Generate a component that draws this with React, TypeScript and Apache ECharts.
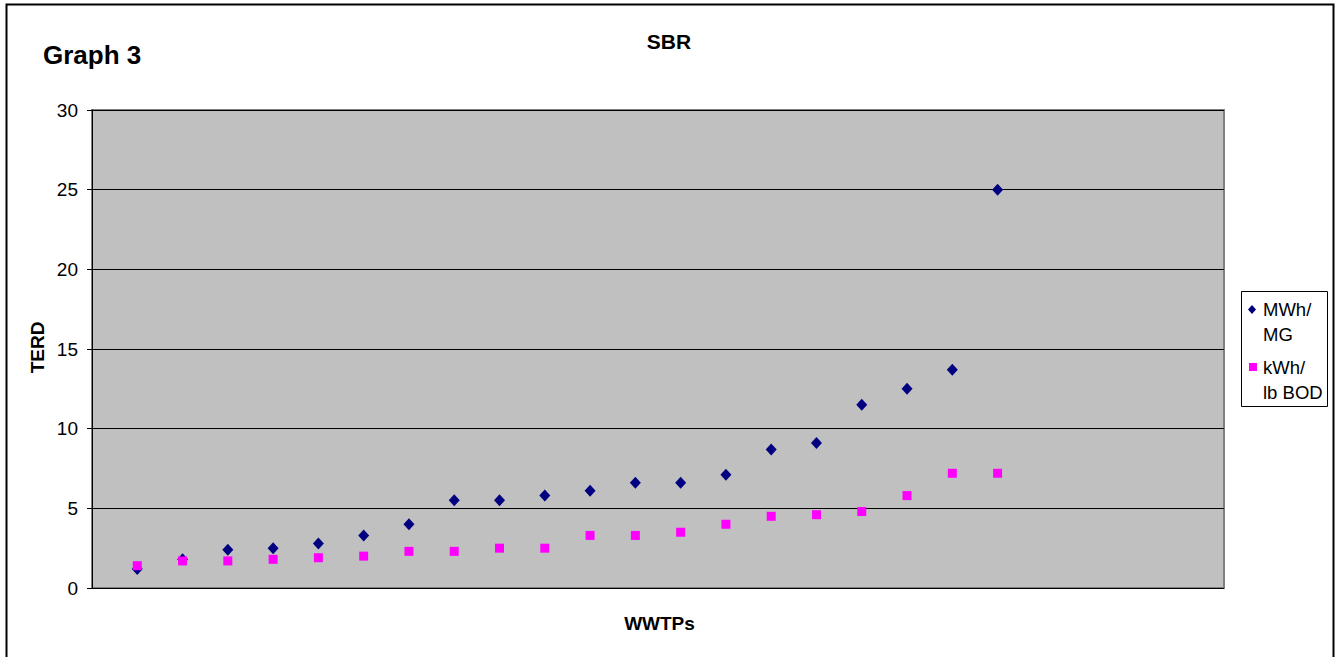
import React, { useEffect, useRef } from "react";
import * as echarts from "echarts";

const plants = [1, 2, 3, 4, 5, 6, 7, 8, 9, 10, 11, 12, 13, 14, 15, 16, 17, 18, 19, 20];
const mwhPerMG = [1.2, 1.8, 2.4, 2.5, 2.8, 3.3, 4.0, 5.5, 5.5, 5.8, 6.1, 6.6, 6.6, 7.1, 8.7, 9.1, 11.5, 12.5, 13.7, 25.0];
const kwhPerLbBOD = [1.4, 1.7, 1.7, 1.8, 1.9, 2.0, 2.3, 2.3, 2.5, 2.5, 3.3, 3.3, 3.5, 4.0, 4.5, 4.6, 4.8, 5.8, 7.2, 7.2];
const seriesNames = ["MWh/\nMG", "kWh/\nlb BOD"];
const yTicks = { min: 0, max: 30, interval: 5 };

const FONT = 'Arial, "Liberation Sans", sans-serif';

export default function App() {
  const ref = useRef<HTMLDivElement>(null);
  useEffect(() => {
    if (!ref.current) return;
    const chart = echarts.init(ref.current, null, { renderer: "svg" });
    chart.setOption({
      animation: false,
      backgroundColor: "#ffffff",
      grid: {
        left: 92,
        top: 110,
        right: 118,
        bottom: 69,
        show: true,
        backgroundColor: "#C0C0C0",
        borderColor: "#808080",
        borderWidth: 2,
      },
      xAxis: {
        type: "value",
        min: 0,
        max: 25,
        axisLine: { show: false },
        axisTick: { show: false },
        axisLabel: { show: false },
        splitLine: { show: false },
      },
      yAxis: {
        type: "value",
        min: yTicks.min,
        max: yTicks.max,
        interval: yTicks.interval,
        axisLine: { show: true, lineStyle: { color: "#000", width: 1 } },
        axisTick: { show: true, length: 5, lineStyle: { color: "#000" } },
        axisLabel: { margin: 14, color: "#000", fontSize: 19, fontFamily: FONT },
        splitLine: { show: true, lineStyle: { color: "#000", width: 1 } },
      },
      series: [
        {
          name: seriesNames[0],
          type: "scatter",
          symbol: "diamond",
          symbolSize: [11, 12],
          itemStyle: { color: "#000080", opacity: 1 },
          data: plants.map((p, i) => [p, mwhPerMG[i]]),
          z: 3,
        },
        {
          name: seriesNames[1],
          type: "scatter",
          symbol: "rect",
          symbolSize: 9,
          itemStyle: { color: "#FF00FF", opacity: 1 },
          data: plants.map((p, i) => [p, kwhPerLbBOD[i]]),
          z: 4,
        },
      ],
      graphic: [
        {
          type: "rect",
          shape: { x: 6.5, y: 4.5, width: 1327, height: 700 },
          style: { fill: "none", stroke: "#000", lineWidth: 2 },
          silent: true,
          z: -1,
        },
        {
          type: "text",
          x: 43,
          y: 55,
          style: { text: "Graph 3", fontSize: 26, fontWeight: "bold", fontFamily: FONT, fill: "#000", align: "left", verticalAlign: "middle" },
        },
        {
          type: "text",
          x: 669,
          y: 41,
          style: { text: "SBR", fontSize: 21, fontWeight: "bold", fontFamily: FONT, fill: "#000", align: "center", verticalAlign: "middle" },
        },
        {
          type: "text",
          x: 37,
          y: 347.5,
          rotation: Math.PI / 2,
          style: { text: "TERD", fontSize: 19, fontWeight: "bold", fontFamily: FONT, fill: "#000", align: "center", verticalAlign: "middle" },
        },
        {
          type: "text",
          x: 659.5,
          y: 623.5,
          style: { text: "WWTPs", fontSize: 19, fontWeight: "bold", fontFamily: FONT, fill: "#000", align: "center", verticalAlign: "middle" },
        },
        {
          type: "rect",
          shape: { x: 1241.5, y: 291.5, width: 86, height: 115 },
          style: { fill: "#fff", stroke: "#000", lineWidth: 1 },
        },
        {
          type: "polygon",
          shape: { points: [[1252, 305], [1256, 309.5], [1252, 314], [1248, 309.5]] },
          style: { fill: "#000080" },
        },
        {
          type: "rect",
          shape: { x: 1249, y: 363, width: 8, height: 8 },
          style: { fill: "#FF00FF" },
        },
        {
          type: "text",
          x: 1263,
          y: 309.5,
          style: { text: "MWh/", fontSize: 18.5, fontFamily: FONT, fill: "#000", align: "left", verticalAlign: "middle" },
        },
        {
          type: "text",
          x: 1263,
          y: 334.5,
          style: { text: "MG", fontSize: 18.5, fontFamily: FONT, fill: "#000", align: "left", verticalAlign: "middle" },
        },
        {
          type: "text",
          x: 1263,
          y: 367,
          style: { text: "kWh/", fontSize: 18.5, fontFamily: FONT, fill: "#000", align: "left", verticalAlign: "middle" },
        },
        {
          type: "text",
          x: 1263,
          y: 392.5,
          style: { text: "lb BOD", fontSize: 18.5, fontFamily: FONT, fill: "#000", align: "left", verticalAlign: "middle" },
        },
      ],
    });
    return () => chart.dispose();
  }, []);
  return (
    <div
      ref={ref}
      style={{ position: "fixed", left: 0, top: 0, width: 1342, height: 657 }}
    />
  );
}
